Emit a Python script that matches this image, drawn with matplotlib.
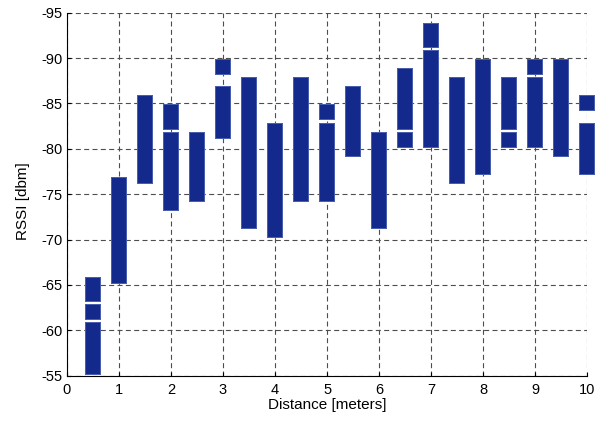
import matplotlib
matplotlib.use("Agg")
import matplotlib.pyplot as plt

plt.rcParams['font.family'] = ['Liberation Sans', 'DejaVu Sans']
plt.rcParams['axes.unicode_minus'] = False

# RSSI readings per distance (meters)
distances = [0.5, 1, 1.5, 2, 2.5, 3, 3.5, 4, 4.5, 5,
             5.5, 6, 6.5, 7, 7.5, 8, 8.5, 9, 9.5, 10]
rssi = [
    [-56, -57, -58, -59, -60, -62, -64, -65],
    [-66, -67, -68, -69, -70, -71, -72, -73, -74, -75, -76],
    [-77, -78, -79, -80, -81, -82, -83, -84, -85],
    [-74, -75, -76, -77, -78, -79, -80, -81, -83, -84],
    [-75, -76, -77, -78, -79, -80, -81],
    [-82, -83, -84, -85, -86, -89],
    [-72, -73, -74, -75, -76, -77, -78, -79, -80, -81, -82, -83, -84, -85, -86, -87],
    [-71, -72, -73, -74, -75, -76, -77, -78, -79, -80, -81, -82],
    [-75, -76, -77, -78, -79, -80, -81, -82, -83, -84, -85, -86, -87],
    [-75, -76, -77, -78, -79, -80, -81, -82, -84],
    [-80, -81, -82, -83, -84, -85, -86],
    [-72, -73, -74, -75, -76, -77, -78, -79, -80, -81],
    [-81, -83, -84, -85, -86, -87, -88],
    [-81, -82, -83, -84, -85, -86, -87, -88, -89, -90, -92, -93],
    [-77, -78, -79, -80, -81, -82, -83, -84, -85, -86, -87],
    [-78, -79, -80, -81, -82, -83, -84, -85, -86, -87, -88, -89],
    [-81, -83, -84, -85, -86, -87],
    [-81, -82, -83, -84, -85, -86, -87, -89],
    [-80, -81, -82, -83, -84, -85, -86, -87, -88, -89],
    [-78, -79, -80, -81, -82, -85],
]

xs = []
ys = []
for d, vals in zip(distances, rssi):
    xs += [d] * len(vals)
    ys += vals

fig = plt.figure(figsize=(6.09, 4.23), dpi=100)
ax = fig.add_axes([0.110, 0.112, 0.854, 0.858])

# light outline layer, then solid fill on top so stacks merge
ax.plot(xs, ys, 's', color='#4a5eb0', markersize=10.9,
        markeredgewidth=0, zorder=3, clip_on=False)
ax.plot(xs, ys, 's', color='#13298c', markersize=10.1,
        markeredgewidth=0, zorder=4, clip_on=False)

ax.set_xlim(0, 10)
ax.set_ylim(-55, -95)
ax.set_xticks(range(0, 11))
ax.set_yticks(range(-95, -54, 5))

ax.grid(True, linestyle=(0, (4.5, 3)), color='0.3', linewidth=0.8)
ax.set_axisbelow(True)
for s in ['top', 'right']:
    ax.spines[s].set_visible(False)
for s in ['left', 'bottom']:
    ax.spines[s].set_color('black')
    ax.spines[s].set_linewidth(0.8)
ax.tick_params(direction='in', length=3, labelsize=10.5, colors='black')
ax.tick_params(axis='x', pad=5)

ax.set_xlabel('Distance [meters]', fontsize=11, labelpad=1)
ax.set_ylabel('RSSI [dbm]', fontsize=11)
ax.yaxis.set_label_coords(-0.072, 0.48)

fig.savefig('out.png', dpi=100)
